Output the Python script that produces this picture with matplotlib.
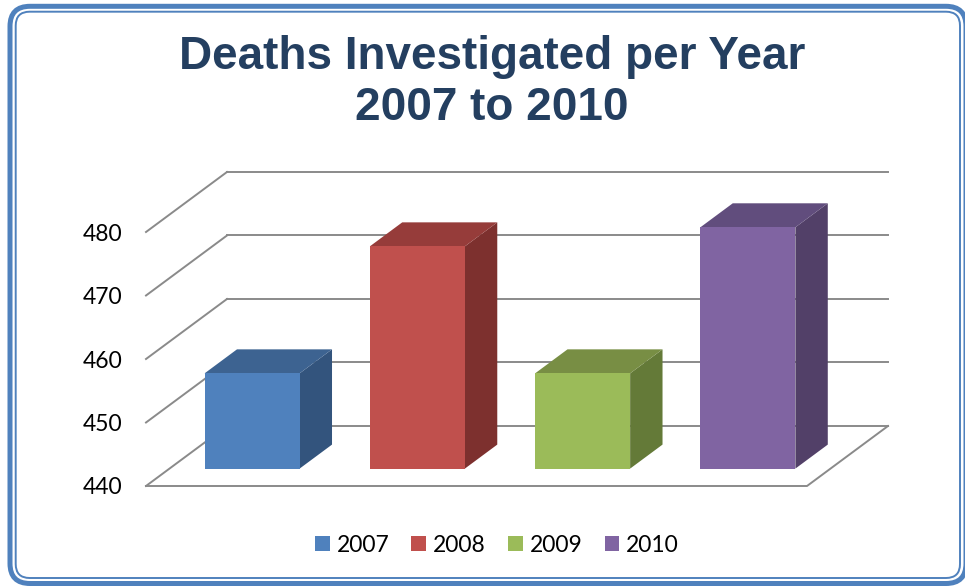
import matplotlib.pyplot as plt
from matplotlib.patches import Polygon, Patch, FancyBboxPatch
from matplotlib.transforms import IdentityTransform

years = ['2007', '2008', '2009', '2010']
deaths = [455, 475, 455, 478]
face_colors = ['#4F81BD', '#C0504D', '#9BBB59', '#8064A2']
top_colors = ['#3D6391', '#963C3A', '#788E44', '#614D7D']
side_colors = ['#33547D', '#7D302E', '#647A38', '#524068']
y_ticks = [440, 450, 460, 470, 480]

# oblique depth offset, in data units (categories / deaths)
DX = 0.49
DY = 9.45
BAR_W = 0.575
D0, D1 = 0.29, 0.69
GRID = '#8A8A8A'

W, H = 965, 586
fig = plt.figure(figsize=(W / 100, H / 100), dpi=100)
fig.patch.set_facecolor('white')

ax = fig.add_axes([146 / W, 1 - 486 / H, (888 - 146) / W, (486 - 172) / H])
ax.set_xlim(0, len(years) + DX)
ax.set_ylim(y_ticks[0], y_ticks[-1] + DY)
for s in ax.spines.values():
    s.set_visible(False)
ax.set_xticks([])
ax.set_yticks(y_ticks)
ax.tick_params(axis='y', length=0, pad=17, labelsize=16.5)
for lab in ax.get_yticklabels():
    lab.set_fontfamily(['Lato', 'DejaVu Sans'])


def proj(x, v, d):
    return (x + d * DX, v + d * DY)


n = len(years)
base = y_ticks[0]
# back wall and left wall gridlines
for v in y_ticks:
    p0, p1 = proj(0, v, 1), proj(n, v, 1)
    ax.plot([p0[0], p1[0]], [p0[1], p1[1]], color=GRID, lw=1.4, zorder=1, clip_on=False)
    q0, q1 = proj(0, v, 0), proj(0, v, 1)
    ax.plot([q0[0], q1[0]], [q0[1], q1[1]], color=GRID, lw=1.4, zorder=1, clip_on=False)
# floor front and right edges
f = [proj(0, base, 0), proj(n, base, 0), proj(n, base, 1)]
ax.plot([p[0] for p in f], [p[1] for p in f], color=GRID, lw=1.4, zorder=1, clip_on=False)

for i, v in enumerate(deaths):
    x0 = i + 0.5 - BAR_W / 2
    x1 = i + 0.5 + BAR_W / 2
    front = [proj(x0, base, D0), proj(x1, base, D0), proj(x1, v, D0), proj(x0, v, D0)]
    side = [proj(x1, base, D0), proj(x1, base, D1), proj(x1, v, D1), proj(x1, v, D0)]
    top = [proj(x0, v, D0), proj(x1, v, D0), proj(x1, v, D1), proj(x0, v, D1)]
    ax.add_patch(Polygon(side, closed=True, fc=side_colors[i], ec='none', zorder=3, clip_on=False))
    ax.add_patch(Polygon(top, closed=True, fc=top_colors[i], ec='none', zorder=3, clip_on=False))
    ax.add_patch(Polygon(front, closed=True, fc=face_colors[i], ec='none', zorder=4, clip_on=False))

title_font = dict(fontsize=33, fontweight='bold', color='#243F60',
                  family=['Liberation Sans', 'DejaVu Sans'])
fig.text(492 / W, 1 - 57 / H, 'Deaths Investigated per Year', ha='center', va='center', **title_font)
fig.text(492 / W, 1 - 108 / H, '2007 to 2010', ha='center', va='center', **title_font)

handles = [Patch(facecolor=c, edgecolor='none') for c in face_colors]
fig.legend(handles, years, loc='center', bbox_to_anchor=(497 / W, 1 - 545 / H), ncol=4,
           frameon=False, prop={'family': ['Lato', 'DejaVu Sans'], 'size': 16.5},
           handlelength=0.65, handleheight=0.65, handletextpad=0.3, columnspacing=0.96)

# double rounded border
for (l, t, r, b, rad, lw) in [(10, 6.3, 966, 583.5, 20, 3.6), (15.7, 11.7, 960, 578, 14, 1.4)]:
    fig.patches.append(FancyBboxPatch((l, H - b), r - l, b - t,
                                      boxstyle='round,pad=0,rounding_size=%d' % rad,
                                      fc='none', ec='#4F81BD', lw=lw,
                                      transform=IdentityTransform(), figure=fig))

fig.savefig('out.png', dpi=100)
